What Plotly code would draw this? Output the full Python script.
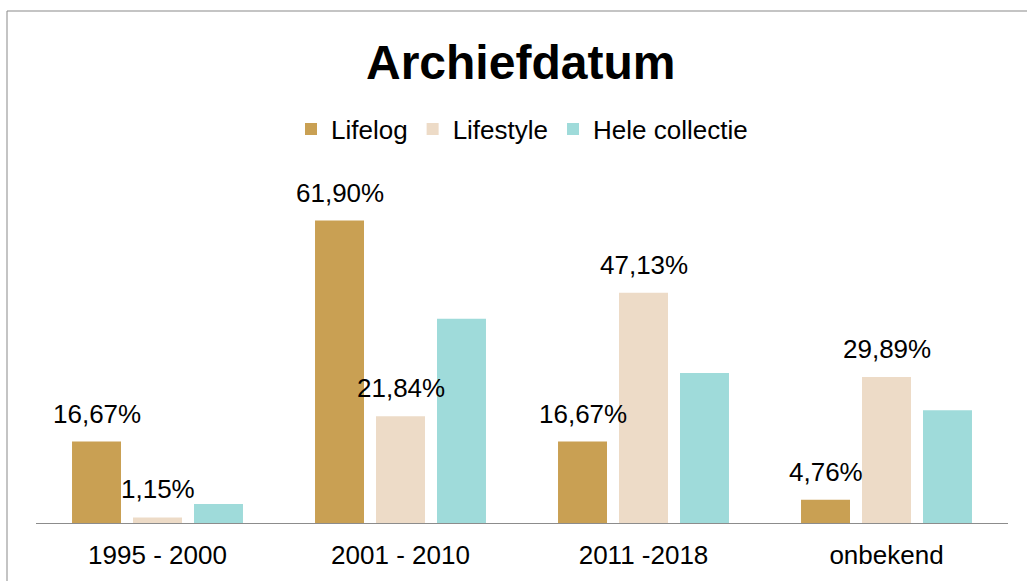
import plotly.graph_objects as go

categories = ["1995 - 2000", "2001 - 2010", "2011 -2018", "onbekend"]
series_names = ["Lifelog", "Lifestyle", "Hele collectie"]
lifelog = [16.67, 61.90, 16.67, 4.76]
lifestyle = [1.15, 21.84, 47.13, 29.89]
hele_collectie = [3.9, 41.8, 30.7, 23.1]
label_series = [True, True, False]
colors = ["#C9A053", "#EDDBC7", "#9FDBDA"]

values = [lifelog, lifestyle, hele_collectie]

FONT = "Liberation Sans, Arial, sans-serif"

fig = go.Figure()
for name, vals, col in zip(series_names, values, colors):
    fig.add_trace(go.Bar(name=name, x=categories, y=vals, marker_color=col,
                         marker_line_width=0, hoverinfo="skip"))

slot_px = 61
annotations = []
for i, (vals, show) in enumerate(zip(values, label_series)):
    if not show:
        continue
    for c, v in zip(categories, vals):
        annotations.append(dict(
            x=c, y=v, xref="x", yref="y",
            text=f"{v:.2f}".replace(".", ",") + "%",
            showarrow=False, xanchor="center", yanchor="bottom",
            xshift=(i - 1) * slot_px, yshift=11,
            font=dict(family=FONT, size=26, color="#000000"),
        ))

fig.update_layout(
    width=1027, height=581,
    margin=dict(l=36, r=19, t=181, b=58),
    paper_bgcolor="white", plot_bgcolor="white",
    barmode="group", bargap=0.247, bargroupgap=0.197,
    title=dict(text="<b>Archiefdatum</b>", x=0.507, xanchor="center",
               y=1 - 62 / 581, yanchor="middle", yref="container",
               font=dict(family=FONT, size=48, color="#000000")),
    legend=dict(orientation="h", x=0.5, xanchor="center",
                y=1 - 129 / 581, yanchor="middle", yref="container",
                font=dict(family=FONT, size=26, color="#000000"),
                itemclick=False, itemdoubleclick=False),
    annotations=annotations,
    showlegend=True,
)
fig.update_xaxes(showline=True, linecolor="#8C8C8C", linewidth=1,
                 showgrid=False, ticks="", ticklabelstandoff=9,
                 tickfont=dict(family=FONT, size=26, color="#000000"))
fig.update_yaxes(range=[0, 70], visible=False, showgrid=False)

fig.add_shape(type="rect", xref="paper", yref="paper",
              x0=(7 - 36) / 972, x1=1.2, y0=-0.5, y1=(523 - 11) / 342,
              line=dict(color="#898989", width=1), fillcolor="rgba(0,0,0,0)",
              layer="below")

fig.write_html("out.html",
               config={"displayModeBar": False},
               post_script="document.body.style.margin='0';document.body.style.padding='0';")
